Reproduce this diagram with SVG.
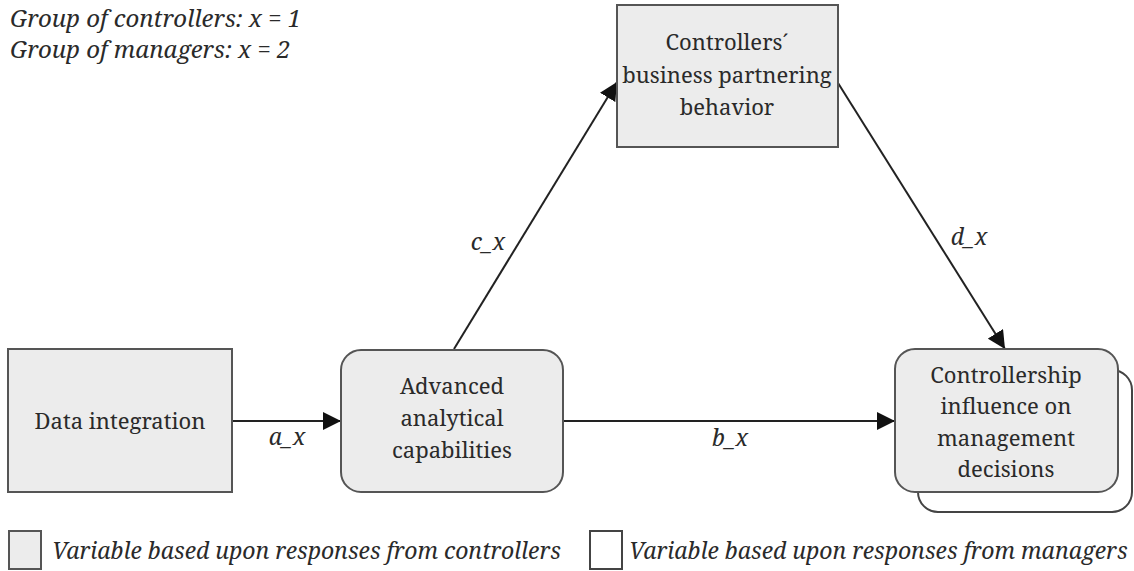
<svg xmlns="http://www.w3.org/2000/svg" width="1134" height="571" viewBox="0 0 1134 571">
  <style>
    .box { fill: #ececec; stroke: #555; stroke-width: 2; }
    .blank { fill: #fff; stroke: #444; stroke-width: 2; }
    .lbl { font-family: 'Noto Serif', 'Liberation Serif', serif; font-size: 22px; fill: #2a2a2a; text-anchor: middle; }
    .it { font-family: 'Noto Serif', 'Liberation Serif', serif; font-style: italic; font-size: 23px; fill: #2a2a2a; }
    .mid { text-anchor: middle; }
    .edge { stroke: #222; stroke-width: 2; fill: none; marker-end: url(#arrow); }
  </style>
  <defs>
    <marker id="arrow" viewBox="0 0 18 18" refX="18" refY="9" markerWidth="18" markerHeight="18" markerUnits="userSpaceOnUse" orient="auto">
      <path d="M0,0 L18,9 L0,18 Z" fill="#111"/>
    </marker>
  </defs>

  <!-- group note -->
  <g id="note">
    <text class="it" x="10" y="27" style="font-size:24px">Group of controllers: x = 1</text>
    <text class="it" x="10" y="58" style="font-size:24px">Group of managers: x = 2</text>
  </g>

  <!-- connectors -->
  <g id="connectors">
    <path d="M232,421 L341,421" class="edge"/>
    <path d="M563,421 L895,421" class="edge"/>
    <path d="M454,349 L617,82" class="edge"/>
    <path d="M838,83 L1005,349" class="edge"/>
    <text class="it mid" x="287" y="445">a_x</text>
    <text class="it mid" x="730" y="446">b_x</text>
    <text class="it mid" x="488" y="250">c_x</text>
    <text class="it mid" x="969" y="245">d_x</text>
  </g>

  <g id="data-integration">
    <rect class="box" x="8" y="349" width="224" height="143"/>
    <text class="lbl" x="120" y="429">Data integration</text>
  </g>

  <g id="advanced-analytics">
    <rect class="box" x="341" y="350" width="222" height="142" rx="20" ry="20"/>
    <text class="lbl" x="452" y="394">Advanced</text>
    <text class="lbl" x="452" y="426">analytical</text>
    <text class="lbl" x="452" y="458">capabilities</text>
  </g>

  <g id="business-partnering">
    <rect class="box" x="617" y="5" width="221" height="142"/>
    <text class="lbl" x="727" y="50">Controllers´</text>
    <text class="lbl" x="727" y="83">business partnering</text>
    <text class="lbl" x="727" y="115">behavior</text>
  </g>

  <g id="controllership-influence">
    <rect class="blank" x="918" y="370" width="214" height="142" rx="20" ry="20"/>
    <rect class="box" x="895" y="349" width="223" height="143" rx="20" ry="20"/>
    <text class="lbl" x="1006" y="383">Controllership</text>
    <text class="lbl" x="1006" y="414">influence on</text>
    <text class="lbl" x="1006" y="446">management</text>
    <text class="lbl" x="1006" y="477">decisions</text>
  </g>

  <!-- legend -->
  <g id="legend">
    <rect class="box" x="9" y="531" width="32" height="38"/>
    <text class="it" x="52" y="559">Variable based upon responses from controllers</text>
    <rect class="blank" x="590" y="531" width="32" height="38"/>
    <text class="it" x="629" y="559">Variable based upon responses from managers</text>
  </g>
</svg>
